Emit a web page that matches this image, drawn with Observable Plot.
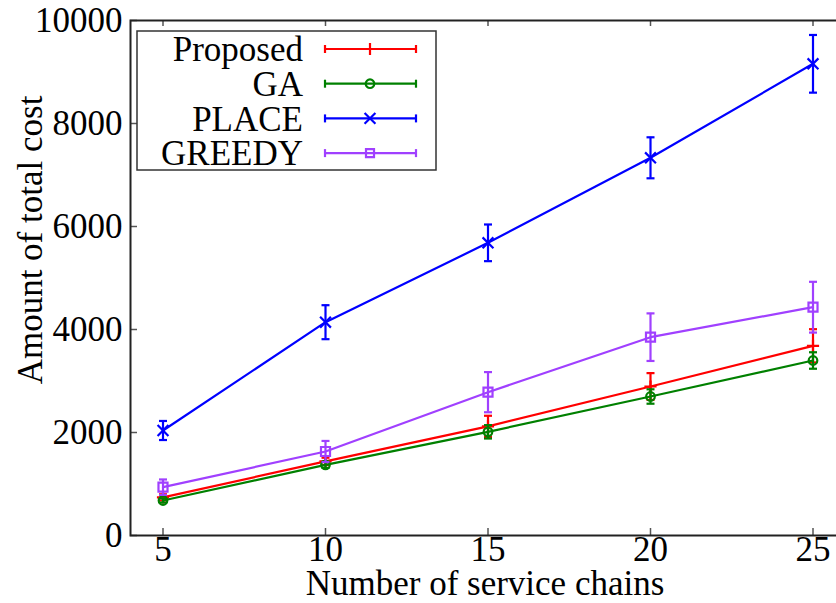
<!DOCTYPE html>
<html><head><meta charset="utf-8">
<script src="https://cdn.jsdelivr.net/npm/d3@7"></script>
<script src="https://cdn.jsdelivr.net/npm/@observablehq/plot@0.6"></script>
<style>body{margin:0;background:#fff} svg{display:block}</style>
</head><body><div id="chart"></div>
<script>
// ---- data ----
const chains = [5, 10, 15, 20, 25];
const proposed    = [740, 1440, 2120, 2893, 3683];
const proposedErr = [60, 70, 205, 260, 323];
const ga          = [680, 1372, 2013, 2699, 3398];
const gaErr       = [40, 60, 130, 140, 160];
const place       = [2039, 4142, 5683, 7334, 9159];
const placeErr    = [185, 330, 356, 398, 560];
const greedy      = [938, 1631, 2783, 3851, 4433];
const greedyErr   = [150, 205, 390, 462, 493];
const seriesNames   = ["Proposed", "GA", "PLACE", "GREEDY"];
const seriesColors  = ["#ff0000", "#008000", "#0000ff", "#a040ff"];
const seriesSymbols = ["plus", "circle", "times", "square"];
const seriesSymbolR = [4, 4.3, 5, 5.1];
const xTicks = [5, 10, 15, 20, 25];
const yTicks = [0, 2000, 4000, 6000, 8000, 10000];
const xLabel = "Number of service chains";
const yLabel = "Amount of total cost";

// ---- build table ----
const values = [proposed, ga, place, greedy];
const errs = [proposedErr, gaErr, placeErr, greedyErr];
const tables = seriesNames.map((name, s) => chains.map((c, i) => ({
  series: name, x: c, y: values[s][i],
  lo: values[s][i] - errs[s][i], hi: values[s][i] + errs[s][i]
})));

const W = 836, H = 603;
const mL = 130, mR = -3, mT = 20, mB = 68;
const frameW = W - mL - mR, frameH = H - mT - mB;
const FONT = "'Liberation Serif', 'Times New Roman', serif";
const FS = 35;
const LW = 2.2;

const hbar = {draw(ctx, size) { const w = Math.sqrt(size / Math.PI); ctx.moveTo(-w, 0); ctx.lineTo(w, 0); }};

const seriesMarks = [];
tables.forEach((t, s) => {
  const col = seriesColors[s];
  seriesMarks.push(
    Plot.line(t, {x: "x", y: "y", stroke: col, strokeWidth: LW}),
    Plot.ruleX(t, {x: "x", y1: "lo", y2: "hi", stroke: col, strokeWidth: LW}),
    Plot.dot(t, {x: "x", y: "lo", symbol: hbar, r: 4, stroke: col, strokeWidth: LW}),
    Plot.dot(t, {x: "x", y: "hi", symbol: hbar, r: 4, stroke: col, strokeWidth: LW}),
    Plot.dot(t, {x: "x", y: "y", symbol: seriesSymbols[s], r: seriesSymbolR[s], stroke: col, strokeWidth: LW, fill: "none"})
  );
});

const chart = Plot.plot({
  width: W, height: H,
  marginLeft: mL, marginRight: mR, marginTop: mT, marginBottom: mB,
  style: {fontFamily: FONT, fontSize: FS + "px", background: "white", color: "black", overflow: "visible"},
  x: {domain: [4, 4 + frameW / 32.5]},
  y: {domain: [0, 10000]},
  marks: [
    ...seriesMarks,
    Plot.tickX(xTicks, {x: d => d, insetTop: frameH - 7, stroke: "#555", strokeWidth: 1.5}),
    Plot.tickX(xTicks, {x: d => d, insetBottom: frameH - 6, stroke: "#555", strokeWidth: 1.5}),
    Plot.tickY(yTicks, {y: d => d, insetRight: frameW - 7, stroke: "#555", strokeWidth: 1.5}),
    Plot.frame({stroke: "#222", strokeWidth: 2}),
    Plot.axisX(xTicks, {tickSize: 0, tickPadding: 1, label: null, fontSize: FS}),
    Plot.axisY(yTicks, {tickSize: 0, tickPadding: 8, label: null, fontSize: FS, tickFormat: d => String(d)}),
    Plot.text([xLabel], {frameAnchor: "bottom", textAnchor: "middle", dy: 48, lineAnchor: "middle", fontSize: FS}),
    Plot.text([yLabel], {frameAnchor: "left", textAnchor: "middle", dx: -100, dy: -38, rotate: -90, lineAnchor: "middle", fontSize: FS})
  ]
});
document.getElementById("chart").appendChild(chart);

// ---- legend (inside the plot frame, gnuplot style) ----
const svg = d3.select(chart);
const lg = svg.append("g").attr("font-family", FONT).attr("font-size", FS);
lg.append("rect").attr("x", 137).attr("y", 31).attr("width", 299).attr("height", 139)
  .attr("fill", "white").attr("stroke", "#333").attr("stroke-width", 1.5);
const d3sym = {plus: d3.symbolPlus, circle: d3.symbolCircle, times: d3.symbolTimes, square: d3.symbolSquare2};
seriesNames.forEach((name, i) => {
  const y = 49 + i * 34.7, col = seriesColors[i];
  lg.append("text").attr("x", 303).attr("y", y).attr("dy", "0.35em").attr("text-anchor", "end").text(name);
  lg.append("line").attr("x1", 325).attr("x2", 416).attr("y1", y).attr("y2", y).attr("stroke", col).attr("stroke-width", LW);
  [325, 416].forEach(x => lg.append("line").attr("x1", x).attr("x2", x).attr("y1", y - 4).attr("y2", y + 4).attr("stroke", col).attr("stroke-width", LW));
  const r = seriesSymbolR[i];
  lg.append("path").attr("transform", `translate(370,${y})`)
    .attr("d", d3.symbol(d3sym[seriesSymbols[i]], Math.PI * r * r)())
    .attr("fill", "none").attr("stroke", col).attr("stroke-width", LW);
});
</script>
</body></html>
